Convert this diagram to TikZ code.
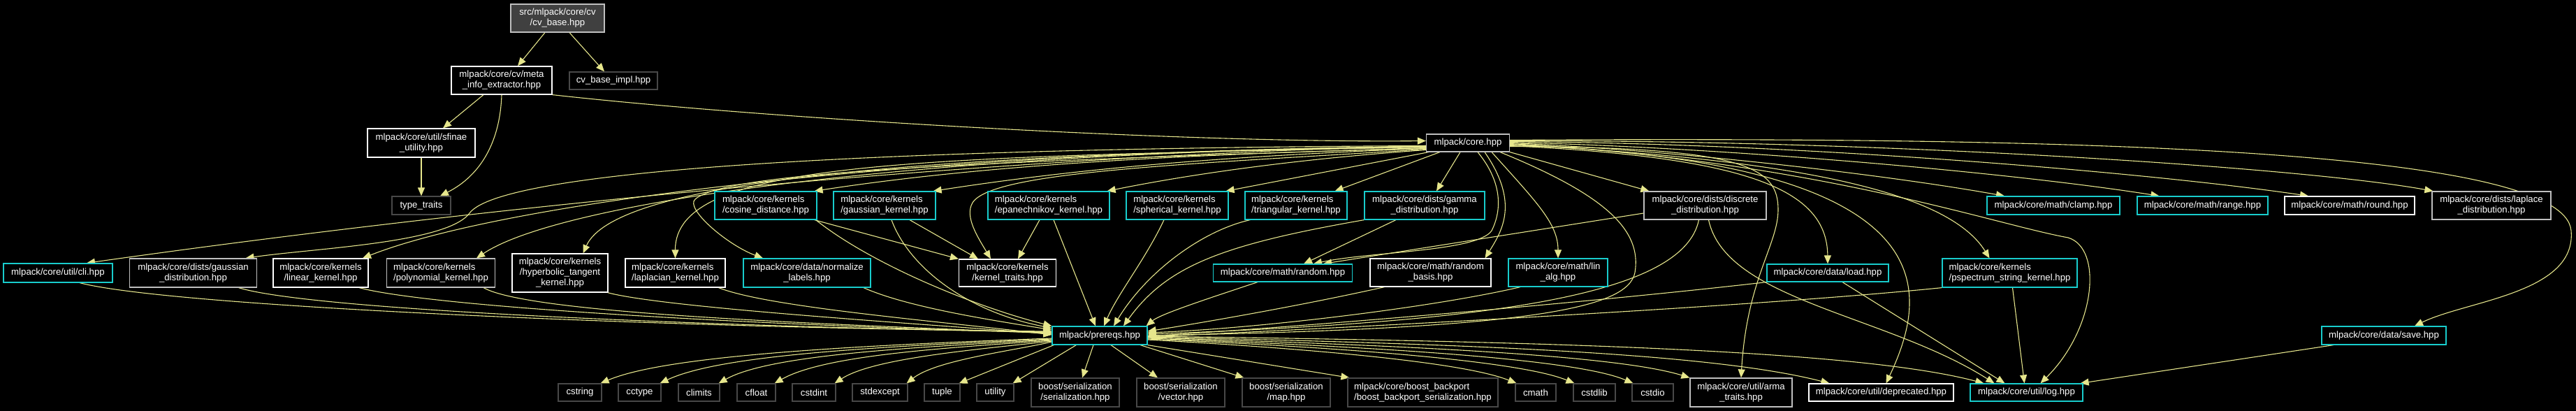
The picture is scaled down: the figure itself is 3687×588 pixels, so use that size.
\documentclass[tikz,border=0pt]{standalone}
\usepackage{fontspec}
\setmainfont{Liberation Sans}
\usetikzlibrary{arrows.meta}
\definecolor{edgec}{RGB}{230,230,140}
\definecolor{cyanc}{RGB}{24,204,204}
\definecolor{lgrayc}{RGB}{191,191,191}
\definecolor{dgrayc}{RGB}{72,72,72}
\definecolor{rootfill}{RGB}{64,64,64}
\newcommand\nodefnt{\fontsize{13.2}{15}\selectfont}
\pgfdeclarelayer{edgelayer}
\pgfsetlayers{edgelayer,main}
\tikzset{
 box/.style={draw, fill=black, line width=1.2pt, text=white, font=\nodefnt, inner sep=0pt, align=center},
 cy/.style={box, draw=cyanc},
 wh/.style={box, draw=white},
 lg/.style={box, draw=lgrayc},
 dg/.style={box, draw=dgrayc},
 rt/.style={box, draw=lgrayc, fill=rootfill},
 sz/.style 2 args={minimum width=#1pt, minimum height=#2pt},
 dep/.style={draw=edgec, line width=1.1pt, -{Triangle[length=12pt,width=10pt]}},
}
\begin{document}
\begin{tikzpicture}[x=1pt,y=-1pt]
\useasboundingbox (0,0) rectangle (3687,588);
% ---------- nodes ----------
\node[rt, sz={134}{40}] (cvbase) at (798,26) {src/mlpack/core/cv\\/cv\_base.hpp};
\node[wh, sz={144}{40}] (meta) at (718,115) {mlpack/core/cv/meta\\\_info\_extractor.hpp};
\node[dg, sz={126}{25}] (cvimpl) at (878,115.5) {cv\_base\_impl.hpp};
\node[wh, sz={154}{41}] (sfinae) at (603,204.5) {mlpack/core/util/sfinae\\\_utility.hpp};
\node[dg, sz={84}{26}] (typetr) at (603,294) {type\_traits};
\node[lg, sz={119}{25}] (core) at (2101,204.5) {mlpack/core.hpp};
% row 294
\node[cy, sz={146}{40}, align=left] (cosine) at (1096,294) {mlpack/core/kernels\\/cosine\_distance.hpp};
\node[cy, sz={146}{40}, align=left] (gkern) at (1266,294) {mlpack/core/kernels\\/gaussian\_kernel.hpp};
\node[cy, sz={174}{40}, align=left] (epan) at (1501,294) {mlpack/core/kernels\\/epanechnikov\_kernel.hpp};
\node[cy, sz={146}{40}, align=left] (spher) at (1685,294) {mlpack/core/kernels\\/spherical\_kernel.hpp};
\node[cy, sz={146}{40}, align=left] (tri) at (1855,294) {mlpack/core/kernels\\/triangular\_kernel.hpp};
\node[cy, sz={172}{40}] (gamma) at (2039,294) {mlpack/core/dists/gamma\\\_distribution.hpp};
\node[lg, sz={175}{40}] (discrete) at (2440.5,294) {mlpack/core/dists/discrete\\\_distribution.hpp};
\node[cy, sz={190}{26}] (clamp) at (2939,294) {mlpack/core/math/clamp.hpp};
\node[cy, sz={187}{26}] (range) at (3152.5,294) {mlpack/core/math/range.hpp};
\node[wh, sz={186}{26}] (round) at (3363,294) {mlpack/core/math/round.hpp};
\node[lg, sz={170}{40}] (laplace) at (3566,294) {mlpack/core/dists/laplace\\\_distribution.hpp};
% row 390
\node[cy, sz={156}{27}] (cli) at (83,390.5) {mlpack/core/util/cli.hpp};
\node[lg, sz={182}{41}] (gdist) at (276.5,390.5) {mlpack/core/dists/gaussian\\\_distribution.hpp};
\node[wh, sz={136}{41}] (linear) at (459,390.5) {mlpack/core/kernels\\/linear\_kernel.hpp};
\node[lg, sz={155}{41}, align=left] (poly) at (631,390.5) {mlpack/core/kernels\\/polynomial\_kernel.hpp};
\node[wh, sz={137}{55}] (hyper) at (801.5,390.5) {mlpack/core/kernels\\/hyperbolic\_tangent\\\_kernel.hpp};
\node[wh, sz={143}{41}, align=left] (lapk) at (966.5,390.5) {mlpack/core/kernels\\/laplacian\_kernel.hpp};
\node[cy, sz={182}{41}] (normlab) at (1155,390.5) {mlpack/core/data/normalize\\\_labels.hpp};
\node[wh, sz={139}{39}] (ktraits) at (1442,390.5) {mlpack/core/kernels\\/kernel\_traits.hpp};
\node[cy, sz={199}{25}] (random) at (1836,390.5) {mlpack/core/math/random.hpp};
\node[wh, sz={173}{40}] (rbasis) at (2047.5,390) {mlpack/core/math/random\\\_basis.hpp};
\node[cy, sz={142}{40}] (linalg) at (2230,390) {mlpack/core/math/lin\\\_alg.hpp};
\node[cy, sz={174}{25}] (load) at (2616,390.5) {mlpack/core/data/load.hpp};
\node[cy, sz={193}{41}, align=left] (pspec) at (2876.5,390.5) {mlpack/core/kernels\\/pspectrum\_string\_kernel.hpp};
% row 480
\node[cy, sz={136}{26}] (prereqs) at (1574,480) {mlpack/prereqs.hpp};
\node[cy, sz={178}{26}] (save) at (3412,480) {mlpack/core/data/save.hpp};
% bottom row
\node[dg, sz={62}{25}] (cstring) at (830,561.5) {cstring};
\node[dg, sz={61}{25}] (cctype) at (915.5,561.5) {cctype};
\node[dg, sz={59}{25}] (climits) at (1000.5,561.5) {climits};
\node[dg, sz={55}{25}] (cfloat) at (1082.5,561.5) {cfloat};
\node[dg, sz={62}{25}] (cstdint) at (1165,561.5) {cstdint};
\node[dg, sz={79}{25}] (stdexcept) at (1259.5,561.5) {stdexcept};
\node[dg, sz={51}{25}] (tuple) at (1348.5,561.5) {tuple};
\node[dg, sz={53}{25}] (utility) at (1424.5,561.5) {utility};
\node[dg, sz={126}{41}] (bser) at (1539,561.5) {boost/serialization\\/serialization.hpp};
\node[dg, sz={126}{41}] (bvec) at (1690,561.5) {boost/serialization\\/vector.hpp};
\node[dg, sz={126}{41}] (bmap) at (1841,561.5) {boost/serialization\\/map.hpp};
\node[dg, sz={215}{41}, align=left] (bback) at (2036.5,561.5) {mlpack/core/boost\_backport\\/boost\_backport\_serialization.hpp};
\node[dg, sz={58}{25}] (cmath) at (2198,561.5) {cmath};
\node[dg, sz={60}{25}] (cstdlib) at (2282,561.5) {cstdlib};
\node[dg, sz={59}{25}] (cstdio) at (2365.5,561.5) {cstdio};
\node[lg, sz={146}{41}] (arma) at (2492,561.5) {mlpack/core/util/arma\\\_traits.hpp};
\node[wh, sz={207}{25}] (depr) at (2692.5,561.5) {mlpack/core/util/deprecated.hpp};
\node[cy, sz={161}{25}] (log) at (2900.5,561.5) {mlpack/core/util/log.hpp};
% ---------- edges ----------
\begin{pgfonlayer}{edgelayer}
\fill[black] (0,0) rectangle (3687,588);
% top
\draw[dep] ([xshift=-18pt]cvbase.south) -- ([xshift=23pt]meta.north);
\draw[dep] ([xshift=17pt]cvbase.south) -- ([xshift=-13pt]cvimpl.north);
\draw[dep] ([xshift=-26pt]meta.south) -- ([xshift=31pt]sfinae.north);
\draw[dep] (meta.south) .. controls (716,200) and (690,250) .. ([xshift=27pt]typetr.north);
\draw[dep] (sfinae.south) -- (typetr.north);
\draw[dep] (meta.south east) .. controls (1100,170) and (1700,205) .. ([yshift=3pt]core.west);
% core to the left
\draw[dep] ([yshift=-4pt]core.west) .. controls (1200,230) and (380,340) .. ([xshift=41pt]cli.north);
\draw[dep] ([yshift=-4pt]core.west) .. controls (1300,212) and (720,240) .. (672,305) .. controls (640,348) and (450,355) .. ([xshift=75pt]gdist.north);
\draw[dep] ([yshift=-5pt]core.west) .. controls (1300,216) and (720,290) .. ([xshift=60pt]linear.north);
\draw[dep] ([yshift=-5pt]core.west) .. controls (1300,218) and (800,290) .. ([xshift=51pt]poly.north);
\draw[dep] ([yshift=-6pt]core.west) .. controls (1300,220) and (880,260) .. ([xshift=33pt]hyper.north);
\draw[dep] ([yshift=-6pt]core.west) .. controls (1300,225) and (966,230) .. (lapk.north);
\draw[dep] ([yshift=-7pt]core.west) .. controls (1400,232) and (1040,245) .. (995,285) .. controls (980,298) and (1040,350) .. ([xshift=-63pt]normlab.north);
\draw[dep] ([yshift=-8pt]core.west) .. controls (1600,222) and (1350,245) .. ([xshift=-4pt]cosine.north east);
\draw[dep] ([yshift=-8pt]core.west) .. controls (1700,225) and (1500,248) .. ([xshift=-4pt]gkern.north east);
\draw[dep] ([yshift=-9pt]core.west) .. controls (1700,235) and (1420,245) .. (1392,290) .. controls (1380,310) and (1400,340) .. ([xshift=-24pt]ktraits.north);
\draw[dep] ([yshift=-10pt]core.west) .. controls (1850,228) and (1700,250) .. ([xshift=-4pt]epan.north east);
\draw[dep] ([xshift=4pt]core.south west) -- ([xshift=-4pt]spher.north east);
\draw[dep] ([xshift=20pt]core.south west) -- ([xshift=-18pt]tri.north east);
\draw[dep] ([xshift=-11pt]core.south) -- ([xshift=17pt]gamma.north);
\draw[dep] ([xshift=14pt]core.south) .. controls (2150,260) and (2150,300) .. (2135,330) .. controls (2115,360) and (1960,360) .. ([xshift=44pt]random.north);
\draw[dep] ([xshift=24pt]core.south) .. controls (2175,290) and (2150,330) .. ([xshift=78pt]rbasis.north);
\draw[dep] ([xshift=34pt]core.south) .. controls (2200,290) and (2230,320) .. (linalg.north);
\draw[dep] ([xshift=46pt]core.south) .. controls (2300,280) and (2350,330) .. (2340,390) .. controls (2330,440) and (2200,470) .. (prereqs.east);
\draw[dep] (core.south east) -- ([xshift=8pt]discrete.north west);
% core to the right
\draw[dep] ([yshift=4pt]core.east) .. controls (3000,195) and (3670,215) .. (3680,330) .. controls (3688,420) and (3530,430) .. ([xshift=44pt]save.north);
\draw[dep] ([yshift=3pt]core.east) .. controls (2700,200) and (3300,240) .. ([xshift=2pt]laplace.north west);
\draw[dep] ([yshift=2pt]core.east) .. controls (2600,205) and (3100,250) .. ([xshift=-59pt]round.north);
\draw[dep] ([yshift=1pt]core.east) .. controls (2500,212) and (2900,250) .. ([xshift=-62pt]range.north);
\draw[dep] (core.east) .. controls (2400,215) and (2700,250) .. ([xshift=-70pt]clamp.north);
\draw[dep] ([yshift=-1pt]core.east) .. controls (2600,230) and (2850,320) .. (2960,340) .. controls (3010,355) and (3000,470) .. ([xshift=20pt]log.north);
\draw[dep] ([yshift=-2pt]core.east) .. controls (2500,225) and (2780,260) .. ([xshift=-29pt]pspec.north);
\draw[dep] ([yshift=-3pt]core.east) .. controls (2800,230) and (2760,420) .. ([xshift=7pt]depr.north);
\draw[dep] ([yshift=-4pt]core.east) .. controls (2500,225) and (2615,270) .. (load.north);
\draw[dep] ([yshift=-5pt]core.east) .. controls (2500,210) and (2545,240) .. (2545,300) .. controls (2545,350) and (2500,400) .. (arma.north);
% middle rows
\draw[dep] ([xshift=-41pt]gamma.south) -- ([xshift=30pt]random.north);
\draw[dep] ([yshift=-11pt]discrete.west) -- ([xshift=58pt]random.north);
\draw[dep] ([xshift=-4pt]cosine.south east) -- (ktraits.north west);
\draw[dep] ([xshift=36pt]gkern.south) -- ([xshift=-42pt]ktraits.north);
\draw[dep] ([xshift=-13pt]epan.south) -- ([xshift=15pt]ktraits.north);
\draw[dep] ([xshift=7pt]epan.south) -- ([xshift=-6pt]prereqs.north);
\draw[dep] ([xshift=-19pt]spher.south) .. controls (1640,370) and (1600,420) .. ([xshift=6pt]prereqs.north);
\draw[dep] ([xshift=8pt]tri.south west) .. controls (1720,330) and (1640,390) .. ([xshift=20pt]prereqs.north);
\draw[dep] (gamma.south west) .. controls (1750,350) and (1670,380) .. ([xshift=34pt]prereqs.north);
\draw[dep] ([xshift=-36pt]random.south) .. controls (1720,430) and (1660,450) .. ([xshift=-2pt]prereqs.north east);
\draw[dep] ([xshift=-66pt]rbasis.south) .. controls (1850,440) and (1700,465) .. ([yshift=6pt]prereqs.east);
\draw[dep] ([xshift=-54pt]linalg.south) .. controls (2050,440) and (1800,470) .. ([yshift=4pt]prereqs.east);
\draw[dep] ([xshift=-9pt]discrete.south) .. controls (2410,420) and (2150,460) .. ([yshift=2pt]prereqs.east);
\draw[dep] (load.south west) .. controls (2300,430) and (1900,465) .. ([yshift=-1pt]prereqs.east);
\draw[dep] (pspec.south west) .. controls (2500,440) and (1900,470) .. ([yshift=-2pt]prereqs.east);
\draw[dep] ([xshift=21pt]load.south) -- ([xshift=-31pt]log.north);
\draw[dep] ([xshift=4pt]pspec.south) -- ([xshift=-3pt]log.north);
\draw[dep] ([xshift=-72pt]save.south) -- ([xshift=-4pt]log.north east);
\draw[dep] ([xshift=5pt]discrete.south) .. controls (2470,430) and (2700,450) .. ([xshift=-46pt]log.north);
% left row into prereqs
\draw[dep] ([xshift=31pt]cli.south) .. controls (250,440) and (1000,470) .. ([yshift=6pt]prereqs.west);
\draw[dep] ([xshift=65pt]gdist.south) .. controls (450,445) and (1050,468) .. ([yshift=5pt]prereqs.west);
\draw[dep] ([xshift=55pt]linear.south) .. controls (620,440) and (1100,466) .. ([yshift=4pt]prereqs.west);
\draw[dep] ([xshift=61pt]poly.south) .. controls (760,450) and (1200,464) .. ([yshift=3pt]prereqs.west);
\draw[dep] ([xshift=68pt]hyper.south) .. controls (950,440) and (1300,462) .. ([yshift=2pt]prereqs.west);
\draw[dep] ([xshift=62pt]lapk.south) .. controls (1100,440) and (1350,460) .. ([yshift=1pt]prereqs.west);
\draw[dep] ([xshift=81pt]normlab.south) .. controls (1300,440) and (1420,458) .. ([yshift=8pt]prereqs.west);
\draw[dep] ([xshift=-2pt]cosine.south east) .. controls (1250,380) and (1400,440) .. (prereqs.north west);
\draw[dep] ([xshift=10pt]gkern.south) .. controls (1300,380) and (1380,445) .. ([yshift=-3pt]prereqs.north west);
% prereqs to bottom row
\draw[dep] ([yshift=-4pt]prereqs.west) .. controls (1200,495) and (950,510) .. ([xshift=-2pt]cstring.north east);
\draw[dep] ([yshift=-5pt]prereqs.west) .. controls (1250,496) and (1030,508) .. ([xshift=-2pt]cctype.north east);
\draw[dep] ([yshift=-6pt]prereqs.west) .. controls (1300,497) and (1100,508) .. ([xshift=-2pt]climits.north east);
\draw[dep] ([yshift=-7pt]prereqs.west) .. controls (1350,498) and (1180,508) .. ([xshift=-2pt]cfloat.north east);
\draw[dep] ([yshift=-8pt]prereqs.west) .. controls (1400,500) and (1250,512) .. ([xshift=-2pt]cstdint.north east);
\draw[dep] ([yshift=-9pt]prereqs.west) .. controls (1450,502) and (1340,515) .. ([xshift=-2pt]stdexcept.north east);
\draw[dep] ([xshift=3pt]prereqs.south west) -- ([xshift=-2pt]tuple.north east);
\draw[dep] ([xshift=35pt]prereqs.south west) -- ([xshift=-2pt]utility.north east);
\draw[dep] ([xshift=-9pt]prereqs.south) -- ([xshift=10pt]bser.north);
\draw[dep] ([xshift=16pt]prereqs.south) -- ([xshift=-33pt]bvec.north);
\draw[dep] ([xshift=58pt]prereqs.south) -- ([xshift=3pt]bmap.north west);
\draw[dep] (prereqs.south east) -- ([xshift=3pt]bback.north west);
\draw[dep] ([yshift=-6pt]prereqs.east) .. controls (1900,500) and (2100,520) .. ([xshift=2pt]cmath.north west);
\draw[dep] ([yshift=-5pt]prereqs.east) .. controls (1950,498) and (2180,518) .. ([xshift=2pt]cstdlib.north west);
\draw[dep] ([yshift=-4pt]prereqs.east) .. controls (2000,497) and (2260,515) .. ([xshift=2pt]cstdio.north west);
\draw[dep] ([yshift=-3pt]prereqs.east) .. controls (2050,495) and (2320,510) .. (arma.north west);
\draw[dep] ([yshift=-2pt]prereqs.east) .. controls (2100,492) and (2450,505) .. ([xshift=30pt]depr.north west);
\draw[dep] ([yshift=-1pt]prereqs.east) .. controls (2150,488) and (2650,498) .. ([xshift=20pt]log.north west);
\end{pgfonlayer}
\end{tikzpicture}
\end{document}
